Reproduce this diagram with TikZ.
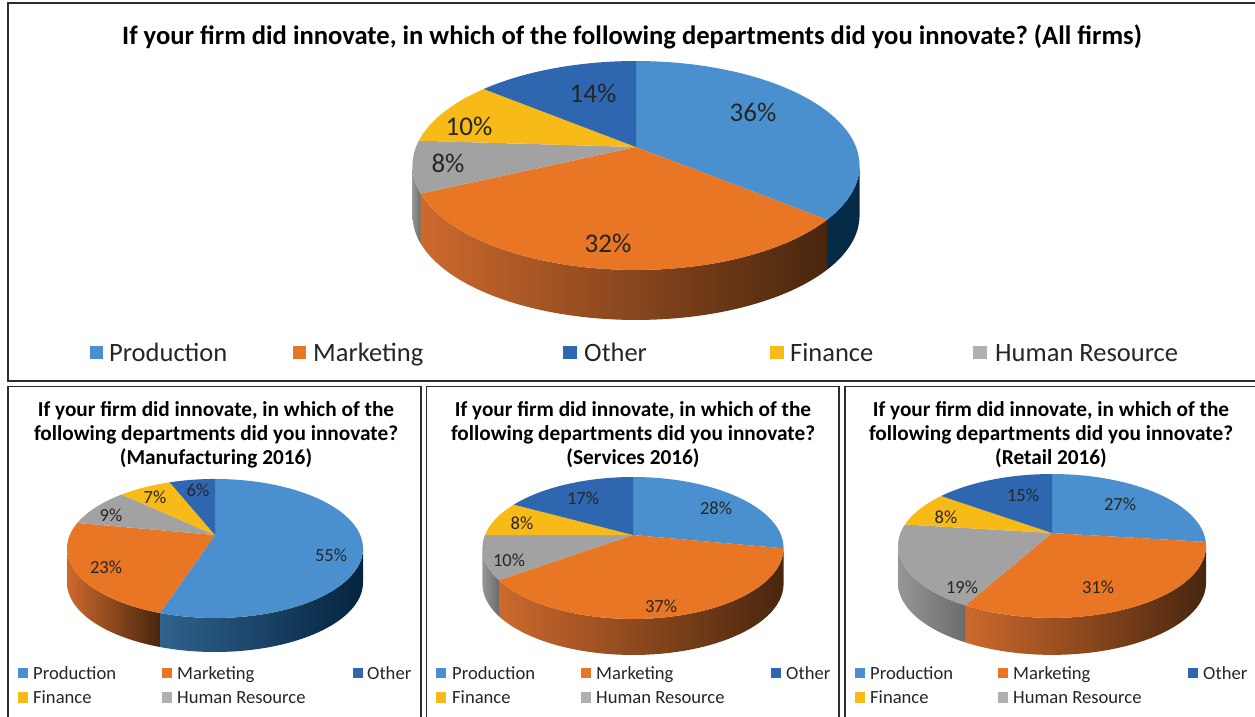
\documentclass[tikz,border=0pt]{standalone}
\usepackage{fontspec}
\setmainfont{Carlito}
\frenchspacing
\definecolor{cprod}{RGB}{74,144,206}
\definecolor{cmark}{RGB}{232,118,36}
\definecolor{coth}{RGB}{46,102,176}
\definecolor{cfin}{RGB}{247,186,22}
\definecolor{chr}{RGB}{162,162,162}
\definecolor{chrleg}{RGB}{176,176,180}
\definecolor{txt}{RGB}{38,38,38}
\definecolor{frame}{RGB}{45,45,45}
\definecolor{mwl}{RGB}{205,105,45}
\definecolor{mwm}{RGB}{135,62,25}
\definecolor{mwr}{RGB}{72,38,14}
\definecolor{pwl}{RGB}{48,98,142}
\definecolor{pwr}{RGB}{4,36,62}
\definecolor{pwd}{RGB}{5,42,70}
\definecolor{gwl}{RGB}{150,150,150}
\definecolor{gwr}{RGB}{108,108,108}
\newcommand\setpie[6]{\def\pcx{#1}\def\pcy{#2}\def\pa{#3}\def\pb{#4}\def\pk{#5}\def\pd{#6}}
\newcommand\pslice[3]{\fill[#3] (\pcx,\pcy) -- plot[domain=#1:#2,samples=70] ({\pcx+\pa*sin(\x)/(1+\pk*cos(\x))},{\pcy-\pb*cos(\x)/(1+\pk*cos(\x))}) -- cycle;}
\newcommand\pwall[3]{\shade[#3] plot[domain=#1:#2,samples=70] ({\pcx+\pa*sin(\x)/(1+\pk*cos(\x))},{\pcy-\pb*cos(\x)/(1+\pk*cos(\x))}) -- plot[domain=#2:#1,samples=70] ({\pcx+\pa*sin(\x)/(1+\pk*cos(\x))},{\pcy+\pd-\pb*cos(\x)/(1+\pk*cos(\x))}) -- cycle;}
\begin{document}
\begin{tikzpicture}[x=1pt,y=-1pt,
  ttl/.style={font=\fontsize{26.6}{30}\selectfont\bfseries, text=black, inner sep=0},
  stl/.style={font=\fontsize{21.3}{24}\selectfont\bfseries, align=center, text=black, inner sep=0},
  pct/.style={font=\fontsize{27}{30}\selectfont, text=txt, inner sep=0},
  spct/.style={font=\fontsize{18.5}{21}\selectfont, text=txt, inner sep=0},
  leg/.style={font=\fontsize{26.5}{30}\selectfont, text=txt, inner sep=0, anchor=base west},
  sleg/.style={font=\fontsize{18.6}{21}\selectfont, text=txt, inner sep=0, anchor=base west},
  box/.style={draw=frame, line width=1.8pt},
  mwall/.style={left color=mwl, middle color=mwm, right color=mwr},
  gwall/.style={left color=gwl, right color=gwr},
]
\path[use as bounding box] (0,0) rectangle (1255,717);
\clip (0,0) rectangle (1255,717);
\fill[white] (0,0) rectangle (1255,717);

% frames
\draw[box] (8,3) rectangle (1262,381);
\draw[box] (8,386.5) rectangle (421,730);
\draw[box] (426.5,386.5) rectangle (839,730);
\draw[box] (845,386.5) rectangle (1262,730);

% ---------- top chart ----------
\node[ttl] (title) at (632,37) {If your firm did innovate, in which of the following departments did you innovate? (All firms)};
\setpie{636}{147}{220}{101.2}{0.177}{50}
\pwall{100.2}{129.6}{left color=pwd, right color=pwd}
\pwall{129.6}{244.8}{mwall}
\pwall{244.8}{259.8}{gwall}
\pslice{0}{129.6}{cprod}
\pslice{129.6}{244.8}{cmark}
\pslice{244.8}{273.6}{chr}
\pslice{273.6}{309.6}{cfin}
\pslice{309.6}{360}{coth}
\node[pct] (a36) at (753,112) {36\%};
\node[pct] (a32) at (608,243) {32\%};
\node[pct] (a14) at (593,93) {14\%};
\node[pct] (a10) at (469,126) {10\%};
\node[pct] (a8) at (448,163) {8\%};
% legend
\fill[cprod] (90,346) rectangle (103,359);
\node[leg] (lgp) at (109,361.5) {Production};
\fill[cmark] (293,346) rectangle (306,359);
\node[leg] (lgm) at (313,361.5) {Marketing};
\fill[coth] (563,346) rectangle (577,359);
\node[leg] (lgo) at (584,361.5) {Other};
\fill[cfin] (770,346) rectangle (784,359);
\node[leg] (lgf) at (790,361.5) {Finance};
\fill[chrleg] (973,346) rectangle (987,359);
\node[leg] (lgh) at (995,361.5) {Human Resource};

% ---------- Manufacturing ----------
\node[stl] (t1) at (216,435) {If your firm did innovate, in which of the\\following departments did you innovate?\\(Manufacturing 2016)};
\setpie{215}{535}{145.2}{66.9}{0.194}{34}
\pwall{101.2}{198}{left color=pwl, right color=pwr}
\pwall{198}{258.8}{mwall}
\pslice{0}{198}{cprod}
\pslice{198}{280.8}{cmark}
\pslice{280.8}{313.2}{chr}
\pslice{313.2}{338.4}{cfin}
\pslice{338.4}{360}{coth}
\node[spct] (m55) at (331,555) {55\%};
\node[spct] (m23) at (106,567) {23\%};
\node[spct] (m9) at (111,515) {9\%};
\node[spct] (m7) at (155,497) {7\%};
\node[spct] (m6) at (198,490) {6\%};
\fill[cprod] (18,667.5) rectangle (28,678);
\node[sleg] (m1) at (33,679.5) {Production};
\fill[cmark] (162,667.5) rectangle (172,678);
\node[sleg] (m2) at (177,679.5) {Marketing};
\fill[coth] (353,667.5) rectangle (363,678);
\node[sleg] (m3) at (367,679.5) {Other};
\fill[cfin] (18,692) rectangle (28,702.5);
\node[sleg] (m4) at (33,703.5) {Finance};
\fill[chrleg] (162,692) rectangle (172,702.5);
\node[sleg] (m5) at (177,703.5) {Human Resource};

% ---------- Services ----------
\node[stl] (t2) at (633,435) {If your firm did innovate, in which of the\\following departments did you innovate?\\(Services 2016)};
\setpie{633}{535}{148}{68.6}{0.183}{36}
\pwall{100.8}{234}{mwall}
\pwall{234}{259.5}{gwall}
\pslice{0}{100.8}{cprod}
\pslice{100.8}{234}{cmark}
\pslice{234}{270}{chr}
\pslice{270}{298.8}{cfin}
\pslice{298.8}{360}{coth}
\node[spct] (s28) at (716,508) {28\%};
\node[spct] (s17) at (583,498) {17\%};
\node[spct] (s8) at (522,523) {8\%};
\node[spct] (s10) at (509,560) {10\%};
\node[spct] (s37) at (661,606) {37\%};
\fill[cprod] (436,667.5) rectangle (446,678);
\node[sleg] (s1) at (452,679.5) {Production};
\fill[cmark] (581,667.5) rectangle (591,678);
\node[sleg] (s2) at (596,679.5) {Marketing};
\fill[coth] (771,667.5) rectangle (781,678);
\node[sleg] (s3) at (786,679.5) {Other};
\fill[cfin] (436,692) rectangle (446,702.5);
\node[sleg] (s4) at (452,703.5) {Finance};
\fill[chrleg] (581,692) rectangle (591,702.5);
\node[sleg] (s5) at (596,703.5) {Human Resource};

% ---------- Retail ----------
\node[stl] (t3) at (1051,435) {If your firm did innovate, in which of the\\following departments did you innovate?\\(Retail 2016)};
\setpie{1052}{533}{151.5}{69.6}{0.18}{37}
\pwall{100.4}{208.8}{mwall}
\pwall{208.8}{259.6}{gwall}
\pslice{0}{97.2}{cprod}
\pslice{97.2}{208.8}{cmark}
\pslice{208.8}{277.2}{chr}
\pslice{277.2}{306}{cfin}
\pslice{306}{360}{coth}
\node[spct] (r27) at (1120,504) {27\%};
\node[spct] (r15) at (1023,495) {15\%};
\node[spct] (r8) at (946,517) {8\%};
\node[spct] (r19) at (962,587) {19\%};
\node[spct] (r31) at (1098,587) {31\%};
\fill[cprod] (855,667.5) rectangle (865,678);
\node[sleg] (r1) at (870,679.5) {Production};
\fill[cmark] (998,667.5) rectangle (1008,678);
\node[sleg] (r2) at (1013,679.5) {Marketing};
\fill[coth] (1188,667.5) rectangle (1198,678);
\node[sleg] (r3) at (1203,679.5) {Other};
\fill[cfin] (855,692) rectangle (865,702.5);
\node[sleg] (r4) at (870,703.5) {Finance};
\fill[chrleg] (998,692) rectangle (1008,702.5);
\node[sleg] (r5) at (1013,703.5) {Human Resource};
\end{tikzpicture}
\end{document}
